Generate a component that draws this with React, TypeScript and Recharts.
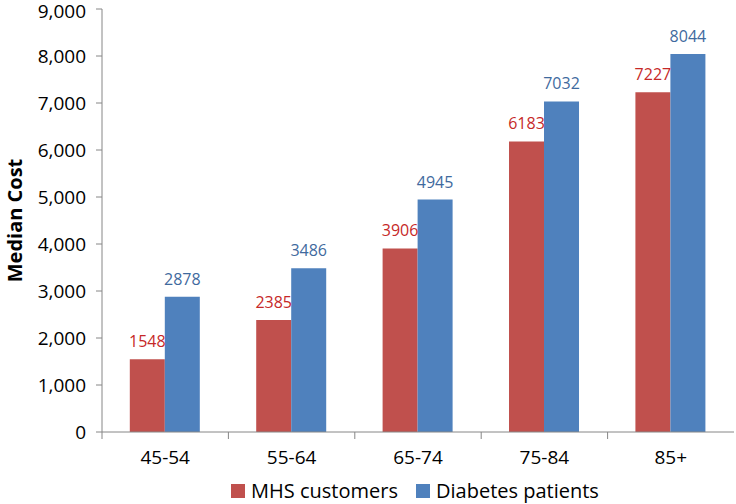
import {
  Bar,
  BarChart,
  LabelList,
  Legend,
  XAxis,
  YAxis,
} from "recharts";

const ageGroups = ["45-54", "55-64", "65-74", "75-84", "85+"];
const mhsCustomers = [1548, 2385, 3906, 6183, 7227];
const diabetesPatients = [2878, 3486, 4945, 7032, 8044];
const yTicks = [0, 1000, 2000, 3000, 4000, 5000, 6000, 7000, 8000, 9000];

const series = [
  { key: "mhs", name: "MHS customers", color: "#C0504D", label: "#C62828" },
  { key: "diabetes", name: "Diabetes patients", color: "#4F81BD", label: "#3F6A9E" },
];

const data = ageGroups.map((age, i) => ({
  age,
  mhs: mhsCustomers[i],
  diabetes: diabetesPatients[i],
}));

const FONT = "'Open Sans', 'DejaVu Sans', sans-serif";
const AXIS = "#868686";

// category ticks sit on the band edges, labels stay centred
function AgeTick(props: any) {
  const { x, y, payload } = props;
  const half = payload?.offset || 63.2;
  return (
    <g>
      <line x1={x - half} x2={x - half} y1={y - 8} y2={y - 1} stroke={AXIS} />
      <text
        x={x}
        y={y + 24}
        textAnchor="middle"
        fontSize={19}
        fontFamily={FONT}
        fill="#000"
      >
        {payload.value}
      </text>
    </g>
  );
}

function YTitle(props: any) {
  const vb = props.viewBox || {};
  const cy = (vb.y ?? 8) + (vb.height ?? 423) / 2;
  return (
    <text
      x={14}
      y={cy}
      transform={`rotate(-90, 14, ${cy})`}
      textAnchor="middle"
      dominantBaseline="central"
      fontSize={20}
      fontWeight="bold"
      fontFamily={FONT}
      fill="#000"
    >
      Median Cost
    </text>
  );
}

function LegendRow() {
  return (
    <div
      style={{
        display: "flex",
        justifyContent: "center",
        alignItems: "center",
        gap: 18,
        fontSize: 20,
        fontFamily: FONT,
        color: "#000",
        lineHeight: "26px",
      }}
    >
      {series.map((s) => (
        <span key={s.key} style={{ display: "flex", alignItems: "center" }}>
          <span
            style={{
              width: 14,
              height: 14,
              background: s.color,
              display: "inline-block",
              marginRight: 6,
            }}
          />
          {s.name}
        </span>
      ))}
    </div>
  );
}

export default function App() {
  return (
    <div
      style={{
        position: "absolute",
        left: 0,
        top: 0,
        width: 736,
        height: 504,
        background: "#fff",
        fontFamily: FONT,
      }}
    >
      <BarChart
        width={736}
        height={504}
        data={data}
        margin={{ top: 9, right: 2, left: 0, bottom: 0 }}
        barCategoryGap="22%"
        barGap={0}
      >
        <XAxis
          dataKey="age"
          stroke={AXIS}
          tickLine={false}
          tick={<AgeTick />}
          height={46}
        />
        <YAxis
          domain={[0, 9000]}
          ticks={yTicks}
          width={102}
          stroke={AXIS}
          tickSize={6}
          tickMargin={10}
          tick={{ fill: "#000", fontSize: 19, fontFamily: FONT }}
          tickFormatter={(v: number) => v.toLocaleString("en-US")}
          label={<YTitle />}
        />
        <Legend
          verticalAlign="bottom"
          content={<LegendRow />}
          wrapperStyle={{ bottom: 0, left: 48 }}
        />
        {series.map((s) => (
          <Bar
            key={s.key}
            dataKey={s.key}
            name={s.name}
            fill={s.color}
            isAnimationActive={false}
          >
            <LabelList
              dataKey={s.key}
              position="top"
              offset={12}
              fill={s.label}
              fontSize={16}
              fontFamily={FONT}
            />
          </Bar>
        ))}
      </BarChart>
    </div>
  );
}
